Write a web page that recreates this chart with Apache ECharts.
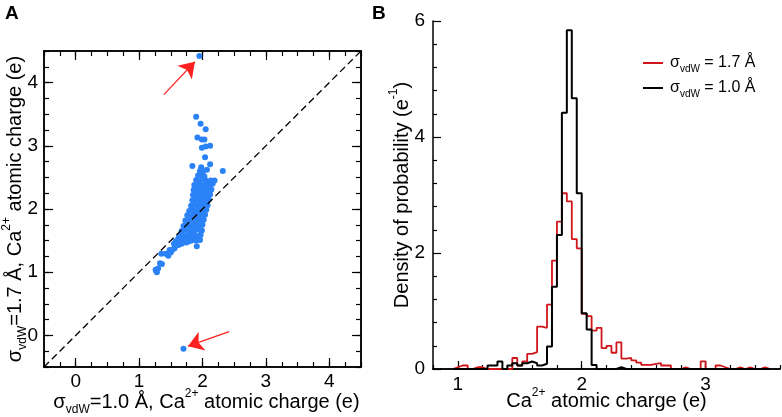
<!DOCTYPE html>
<html lang="en">
<head>
<meta charset="UTF-8">
<title>Ca2+ atomic charge</title>
<script src="https://cdn.jsdelivr.net/npm/echarts@6.0.0/dist/echarts.min.js"></script>
<style>
  html, body { margin: 0; padding: 0; background: #fff; }
  #chart { width: 782px; height: 417px; }
</style>
</head>
<body>
<div id="chart"></div>
<script>
// ---- panel A: charge with sigma_vdW = 1.0 A (x) vs 1.7 A (y)
var lowTail = [
  [1.26,1.04],[1.28,1.00],[1.30,1.06],[1.27,1.02],[1.33,1.14],[1.35,1.29],[1.36,1.13],
  [1.42,1.29],[1.46,1.26],[1.50,1.31],[1.48,1.35],[1.53,1.36],[1.56,1.38],[1.59,1.44],
  [1.62,1.43],[1.58,1.49],[1.67,1.45],[1.70,1.47],[1.75,1.47],[1.83,1.50],[1.91,1.41],
  [1.96,1.51],[1.96,1.59],[1.62,1.54],[1.66,1.58],[1.55,1.45]
];
var core = [
  [1.66,1.50],[1.72,1.52],[1.79,1.49],[1.84,1.53],[1.90,1.50],[1.95,1.52],
  [1.64,1.57],[1.70,1.59],[1.75,1.56],[1.81,1.58],[1.86,1.60],[1.91,1.57],[1.97,1.59],
  [1.67,1.65],[1.72,1.67],[1.78,1.64],[1.83,1.67],[1.88,1.66],[1.93,1.68],[1.99,1.66],
  [1.70,1.73],[1.75,1.75],[1.80,1.72],[1.85,1.74],[1.90,1.76],[1.95,1.73],[2.00,1.75],
  [1.73,1.82],[1.78,1.80],[1.83,1.83],[1.88,1.81],[1.93,1.84],[1.98,1.81],[2.02,1.83],
  [1.76,1.90],[1.81,1.88],[1.86,1.91],[1.91,1.89],[1.96,1.92],[2.00,1.89],[2.04,1.91],
  [1.79,1.97],[1.84,1.99],[1.89,1.96],[1.94,1.98],[1.98,2.00],[2.03,1.97],[2.06,1.99],
  [1.82,2.05],[1.87,2.07],[1.92,2.04],[1.96,2.07],[2.01,2.05],[2.05,2.08],[2.08,2.06],
  [1.84,2.14],[1.88,2.12],[1.93,2.15],[1.97,2.13],[2.02,2.16],[2.06,2.13],[2.10,2.15],
  [1.85,2.22],[1.89,2.20],[1.94,2.23],[1.98,2.21],[2.03,2.24],[2.07,2.21],[2.12,2.23],
  [1.86,2.30],[1.91,2.28],[1.95,2.31],[2.00,2.29],[2.04,2.32],[2.09,2.30],[2.14,2.31],
  [1.87,2.38],[1.92,2.36],[1.96,2.39],[2.01,2.37],[2.06,2.40],[2.11,2.38],[2.16,2.40],
  [1.90,2.46],[1.95,2.44],[2.00,2.47],[2.05,2.45],[2.13,2.45],[2.19,2.45],
  [1.93,2.53],[1.98,2.56],[2.03,2.52],[1.96,2.60]
];
var upperTail = [
  [1.90,3.46],[1.97,3.35],[2.05,3.26],[1.92,3.13],[1.99,3.10],[2.03,3.10],[1.99,2.97],
  [2.05,2.99],[2.12,3.00],[2.04,2.82],[1.84,2.68],[1.98,2.66],[2.12,2.71],[2.32,2.60],
  [1.96,2.54],[2.07,2.62],[2.01,2.60]
];
var outliers = [[1.95,4.42],[1.70,-0.21]];
var arrows = [[[1.39,3.81],[1.88,4.33]], [[2.42,0.06],[1.77,-0.17]]];
var diagonal = [[-0.5,-0.5],[4.5,4.5]];
var ticksA = [0,1,2,3,4];

// ---- panel B: histograms, bins 0.04 e wide from 0.96 e
var binStart = 0.96, binWidth = 0.04;
var dens17 = [0.03,0.06,0.06,0,0.03,0.03,0,0,0,0,0,0,0.19,0.06,0.13,0.26,0.29,0.73,0.71,1.11,
  1.87,2.54,3.03,2.89,2.24,2.08,0.95,0.91,0.66,0.71,0.36,0.40,0.28,0.46,0.18,0.19,0.15,0.11,
  0.07,0.07,0.09,0.10,0.06,0.06,0,0,0.03,0,0,0,0.13,0,0,0.06,0.03,0,0,0.03,0,0.03,0,0,0.03,0];
var dens10 = [0,0,0,0,0,0,0,0.06,0.06,0.13,0,0.06,0.10,0.06,0.10,0.13,0.10,0.06,0.09,0.39,
  1.42,2.31,4.42,5.84,4.67,3.03,0.96,0.68,0.07,0,0,0,0,0.03,0,0,0,0,0,0,0,0,0,0,0,0,0,0,0,0,
  0,0,0,0,0,0,0,0,0,0,0,0,0,0];
var ticksB = [1,2,3];
var name17 = "sigma 1.7", name10 = "sigma 1.0";

function steps(vals) {
  var out = [[binStart, 0]];
  for (var i = 0; i < vals.length; i++) {
    out.push([+(binStart + i * binWidth).toFixed(2), vals[i]]);
  }
  out.push([+(binStart + vals.length * binWidth).toFixed(2), 0]);
  return out;
}

var F = "Liberation Sans, Arial, sans-serif";
var rich = {
  n: { fontSize: 20, fontFamily: F, color: "#000", lineHeight: 28 },
  sub: { fontSize: 12, fontFamily: F, color: "#000", lineHeight: 12, verticalAlign: "bottom" },
  sup: { fontSize: 12, fontFamily: F, color: "#000", lineHeight: 14, verticalAlign: "top" }
};
var axLine = { show: true, onZero: false, lineStyle: { color: "#000", width: 1.5 } };
var tickStyle = { color: "#000", width: 1.2 };

function minorAxis(grid, pos, min, max, step, len) {
  return {
    type: "value", gridIndex: grid, position: pos, min: min, max: max, interval: step,
    axisLine: axLine, splitLine: { show: false },
    axisTick: { show: true, inside: true, length: len, lineStyle: tickStyle },
    axisLabel: { show: false }
  };
}
function majorAxis(grid, pos, min, max, vals, len, showLabels, margin) {
  return {
    type: "value", gridIndex: grid, position: pos, min: min, max: max,
    axisLine: axLine, splitLine: { show: false }, nameMoveOverlap: false,
    axisTick: { show: true, inside: true, length: len, customValues: vals, lineStyle: tickStyle },
    axisLabel: { show: showLabels, customValues: vals, margin: margin, fontSize: 19, fontFamily: F, color: "#000" }
  };
}

var xA = majorAxis(0, "bottom", -0.5, 4.5, ticksA, 9, true, 5);
xA.name = "{n|σ}{sub|vdW}{n|=1.0 Å, Ca}{sup|2+}{n| atomic charge (e)}";
xA.nameLocation = "middle"; xA.nameGap = 21; xA.nameTextStyle = { rich: rich, padding: [0, 0, 0, 8] };
var yA = majorAxis(0, "left", -0.5, 4.5, ticksA, 9, true, 6);
yA.name = "{n|σ}{sub|vdW}{n|=1.7 Å, Ca}{sup|2+}{n| atomic charge (e)}";
yA.nameLocation = "middle"; yA.nameGap = 15; yA.nameRotate = 90; yA.nameTextStyle = { rich: rich };

var xB = majorAxis(1, "bottom", 0.8, 3.6, ticksB, 8, true, 6);
xB.name = "{n|Ca}{sup|2+}{n| atomic charge (e)}";
xB.nameLocation = "middle"; xB.nameGap = 18; xB.nameTextStyle = { rich: rich };
var yB = {
  type: "value", gridIndex: 1, position: "left", min: 0, max: 6, interval: 2,
  axisLine: axLine, splitLine: { show: false }, nameMoveOverlap: false,
  axisTick: { show: true, inside: true, length: 8, lineStyle: tickStyle },
  minorTick: { show: true, splitNumber: 5, length: 4, lineStyle: tickStyle },
  minorSplitLine: { show: false },
  axisLabel: { margin: 8, fontSize: 19, fontFamily: F, color: "#000" },
  name: "{n|Density of probability (e}{sup|-1}{n|)}",
  nameLocation: "middle", nameGap: 17, nameRotate: 90, nameTextStyle: { rich: rich }
};

var chart = echarts.init(document.getElementById("chart"), null, { renderer: "canvas" });
chart.setOption({
  animation: false,
  backgroundColor: "#fff",
  grid: [
    { left: 44, top: 51, width: 317, height: 316, outerBoundsMode: "none", containLabel: false },
    { left: 433, top: 21, width: 347, height: 348, outerBoundsMode: "none", containLabel: false }
  ],
  xAxis: [
    minorAxis(0, "bottom", -0.5, 4.5, 0.25, 5), xA,
    minorAxis(0, "top", -0.5, 4.5, 0.25, 5), majorAxis(0, "top", -0.5, 4.5, ticksA, 9, false, 0),
    minorAxis(1, "bottom", 0.8, 3.6, 0.2, 4), xB
  ],
  yAxis: [
    minorAxis(0, "left", -0.5, 4.5, 0.25, 5), yA,
    minorAxis(0, "right", -0.5, 4.5, 0.25, 5), majorAxis(0, "right", -0.5, 4.5, ticksA, 9, false, 0),
    yB
  ],
  legend: {
    data: [name17, name10], orient: "vertical", left: 638, top: 50,
    icon: "rect", itemWidth: 20, itemHeight: 2, itemGap: 6,
    formatter: function (name) {
      return name === name17 ? "{n|σ}{sub|vdW}{n| = 1.7 Å}" : "{n|σ}{sub|vdW}{n| = 1.0 Å}";
    },
    textStyle: {
      padding: [0, 0, 0, 2],
      rich: {
        n: { fontSize: 16, fontFamily: F, color: "#000", lineHeight: 22 },
        sub: { fontSize: 10, fontFamily: F, color: "#000", lineHeight: 10, verticalAlign: "bottom" }
      }
    }
  },
  graphic: [
    { type: "text", left: 5, top: 4, style: { text: "A", font: "bold 19px " + F, fill: "#000" } },
    { type: "text", left: 372, top: 4, style: { text: "B", font: "bold 19px " + F, fill: "#000" } }
  ],
  series: [
    {
      type: "scatter", xAxisIndex: 1, yAxisIndex: 1, symbolSize: 6, z: 2,
      itemStyle: { color: "#2b82f7", opacity: 1 },
      data: lowTail.concat(core, upperTail, outliers)
    },
    {
      type: "line", xAxisIndex: 1, yAxisIndex: 1, data: diagonal, symbol: "none", z: 3,
      lineStyle: { color: "#000", width: 1.3, type: [7, 4] }
    },
    {
      type: "lines", coordinateSystem: "cartesian2d", xAxisIndex: 1, yAxisIndex: 1, z: 4,
      symbol: ["none", "arrow"], symbolSize: 15,
      lineStyle: { color: "#ff2020", width: 1.2, opacity: 1, curveness: 0 },
      data: arrows.map(function (a) { return { coords: a }; })
    },
    {
      name: name17, type: "line", xAxisIndex: 5, yAxisIndex: 4, step: "end", symbol: "none", z: 3,
      color: "#d0161b", lineStyle: { color: "#d0161b", width: 1.8 }, data: steps(dens17)
    },
    {
      name: name10, type: "line", xAxisIndex: 5, yAxisIndex: 4, step: "end", symbol: "none", z: 4,
      color: "#000", lineStyle: { color: "#000", width: 2 }, data: steps(dens10)
    }
  ]
});
</script>
</body>
</html>
